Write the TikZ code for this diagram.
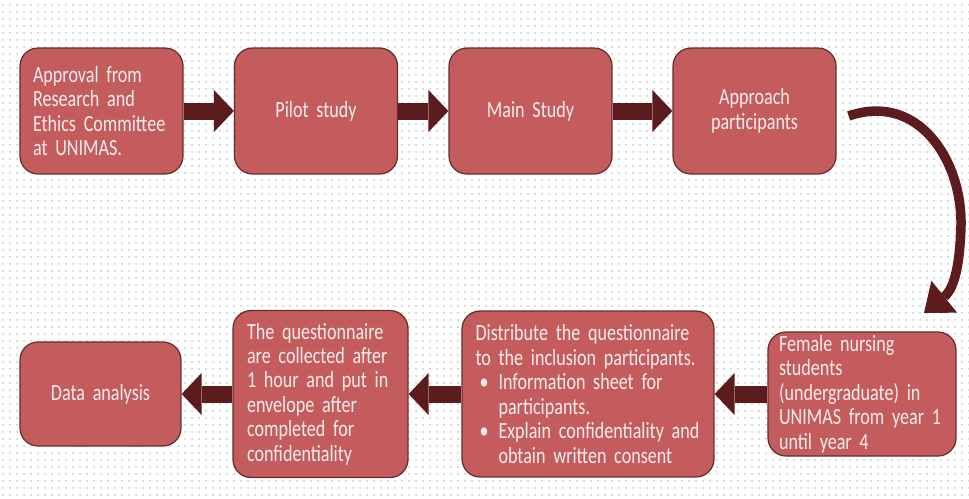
\documentclass[tikz,border=0pt]{standalone}
\usepackage{fontspec}
\setmainfont{Carlito}[FakeStretch=0.78, WordSpace=0.72]
\usepackage{xcolor}
\usetikzlibrary{arrows.meta, patterns.meta}

\definecolor{boxfill}{RGB}{196,92,94}
\definecolor{boxline}{RGB}{100,45,45}
\definecolor{arrowfill}{RGB}{92,28,30}
\definecolor{boxtext}{RGB}{246,236,236}
\newcommand{\boxfont}{\fontsize{13.2pt}{13.9pt}\selectfont}

\tikzdeclarepattern{
    name=bgdots, type=uncolored,
    bounding box={(0,0) and (0.13cm,0.13cm)},
    tile size={(0.13cm,0.13cm)},
    code={\fill (0.065cm,0.065cm) circle (0.022cm);}
}

\tikzset{
    stepbox/.style={draw=boxline, fill=boxfill, line width=0.7pt, rounded corners=0.36cm,
        text=boxtext, font=\boxfont, inner xsep=0.26cm, inner ysep=0pt},
    blockarrow/.style={draw=arrowfill, line width=0.34cm,
        -{Triangle[length=0.4cm, width=0.84cm, line width=0pt]}},
    curvearrow/.style={draw=arrowfill, line width=0.19cm,
        -{Triangle[length=0.52cm, width=0.82cm, line width=0pt]}}
}

\begin{document}
\begin{tikzpicture}[x=0.02cm, y=-0.02cm]
    \useasboundingbox (0,0) rectangle (969,498);
    \fill[white] (0,0) rectangle (969,498);
    \fill[pattern=bgdots, pattern color=black!20] (0,0) rectangle (969,498);

    \node[stepbox, text width=2.74cm, minimum height=2.52cm, align=left] (approval) at (101.5,111)
        {Approval from\\Research and\\Ethics Committee\\at UNIMAS.};
    \node[stepbox, text width=2.74cm, minimum height=2.52cm, align=center] (pilot) at (316,111)
        {Pilot study};
    \node[stepbox, text width=2.74cm, minimum height=2.52cm, align=center] (mainstudy) at (530.5,111)
        {Main Study};
    \node[stepbox, text width=2.74cm, minimum height=2.52cm, align=center] (approach) at (754.5,111)
        {Approach\\participants};

    \node[stepbox, text width=3.32cm, minimum height=2.48cm, align=left, inner xsep=0.22cm] (female) at (862,394)
        {Female nursing\\students\\(undergraduate) in\\UNIMAS from year 1\\until year 4};
    \node[stepbox, text width=4.5cm, minimum height=3.32cm, align=left, inner xsep=0.27cm] (distribute) at (588,394)
        {Distribute the questionnaire\\to the inclusion participants.\\
        \makebox[0.46cm][l]{\hspace{0.08cm}\textbullet}Information sheet for\\
        \hspace*{0.46cm}participants.\\
        \makebox[0.46cm][l]{\hspace{0.08cm}\textbullet}Explain confidentiality and\\
        \hspace*{0.46cm}obtain written consent};
    \node[stepbox, text width=2.94cm, minimum height=3.34cm, align=left, inner xsep=0.28cm] (collected) at (320.5,394)
        {The questionnaire\\are collected after\\1 hour and put in\\envelope after\\completed for\\confidentiality};
    \node[stepbox, text width=2.7cm, minimum height=2.08cm, align=center] (analysis) at (100.5,394)
        {Data analysis};

    \draw[blockarrow] (approval) -- (pilot);
    \draw[blockarrow] (pilot) -- (mainstudy);
    \draw[blockarrow] (mainstudy) -- (approach);
    \draw[blockarrow] (female) -- (distribute);
    \draw[blockarrow] (distribute) -- (collected);
    \draw[blockarrow] (collected) -- (analysis);

    \coordinate (curvetip) at (924,313);
    \draw[curvearrow] ([xshift=0.24cm, yshift=-0.1cm]approach.east)
        .. controls (918,92) and (962,160) .. (961,225)
        .. controls (960,262) and (955,288) .. (curvetip);
\end{tikzpicture}
\end{document}
